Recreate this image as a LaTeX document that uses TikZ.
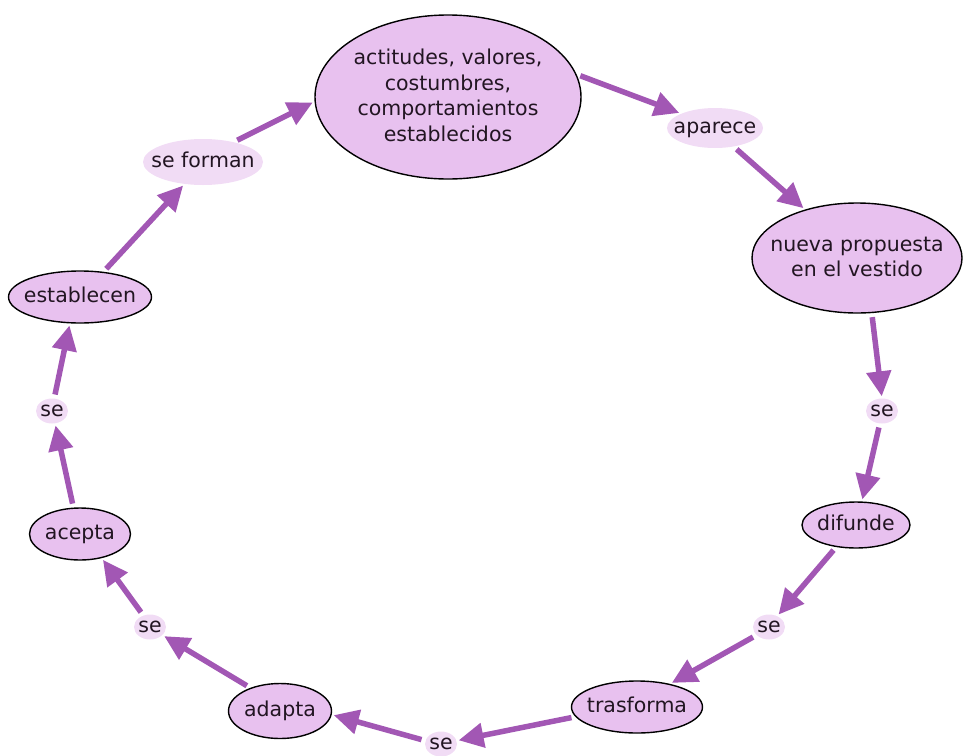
\documentclass[tikz,border=0pt]{standalone}
\usepackage{fontspec}
\setmainfont{DejaVu Sans}
\usetikzlibrary{shapes.geometric,arrows.meta}
\definecolor{cfill}{HTML}{E8C1EF}
\definecolor{lfill}{HTML}{F1DCF5}
\definecolor{arrc}{HTML}{A257B4}
\definecolor{txt}{HTML}{221522}
\newcommand{\nodetxt}[1]{\makebox[0pt][c]{\raisebox{-12pt}{\smash{\begin{tabular}{@{}c@{}}#1\end{tabular}}}}}
\tikzset{
  concept/.style={ellipse,draw=black,line width=1.4pt,fill=cfill,inner sep=0pt,text=txt,font=\fontsize{20.5}{25.5}\selectfont},
  linklab/.style={ellipse,fill=lfill,inner sep=0pt,text=txt,font=\fontsize{20.5}{25.5}\selectfont},
  arr/.style={draw=arrc,line width=5.5pt,-{Triangle[length=25pt,width=24pt]},shorten <=4pt,shorten >=2pt}
}
\begin{document}
\begin{tikzpicture}[x=1pt,y=-1pt]
\useasboundingbox (0,0) rectangle (963,755);
\node[concept,minimum width=266pt,minimum height=164pt] (top) at (448,97) {\nodetxt{actitudes, valores,\\costumbres,\\comportamientos\\establecidos}};
\node[linklab,minimum width=96pt,minimum height=40pt] (ap) at (715,128) {\nodetxt{aparece}};
\node[concept,minimum width=210pt,minimum height=110pt] (np) at (857,258) {\nodetxt{nueva propuesta\\en el vestido}};
\node[linklab,minimum width=32pt,minimum height=25pt] (se1) at (882,411) {\nodetxt{se}};
\node[concept,minimum width=108pt,minimum height=46pt] (dif) at (856,525) {\nodetxt{difunde}};
\node[linklab,minimum width=32pt,minimum height=25pt] (se2) at (769,627) {\nodetxt{se}};
\node[concept,minimum width=131pt,minimum height=52pt] (tra) at (637,707) {\nodetxt{trasforma}};
\node[linklab,minimum width=32pt,minimum height=25pt] (se3) at (441,744) {\nodetxt{se}};
\node[concept,minimum width=103pt,minimum height=55pt] (ada) at (280,711) {\nodetxt{adapta}};
\node[linklab,minimum width=32pt,minimum height=25pt] (se4) at (150,627) {\nodetxt{se}};
\node[concept,minimum width=101pt,minimum height=52pt] (ace) at (80,534) {\nodetxt{acepta}};
\node[linklab,minimum width=32pt,minimum height=25pt] (se5) at (52,411) {\nodetxt{se}};
\node[concept,minimum width=143pt,minimum height=52pt] (est) at (80,297) {\nodetxt{establecen}};
\node[linklab,minimum width=120pt,minimum height=46pt] (sf) at (203,162) {\nodetxt{se forman}};

\draw[arr] (sf.33) -- (top.182);
\draw[arr] (top.10) -- (ap.157);
\draw[arr] (ap.-45) -- (np.137);
\draw[arr] (np.-75) -- (se1.90);
\draw[arr] (se1.-100) -- (dif.76);
\draw[arr] (dif.228) -- (se2.53);
\draw[arr] (se2.213) -- (tra.35);
\draw[arr] (tra.189) -- (se3.12);
\draw[arr] (se3.168) -- (ada.-4);
\draw[arr] (ada.142) -- (se4.-33);
\draw[arr] (se4.120) -- (ace.-48);
\draw[arr] (ace.104) -- (se5.-76);
\draw[arr] (se5.80) -- (est.-111);
\draw[arr] (est.47) -- (sf.-130);
\end{tikzpicture}
\end{document}
